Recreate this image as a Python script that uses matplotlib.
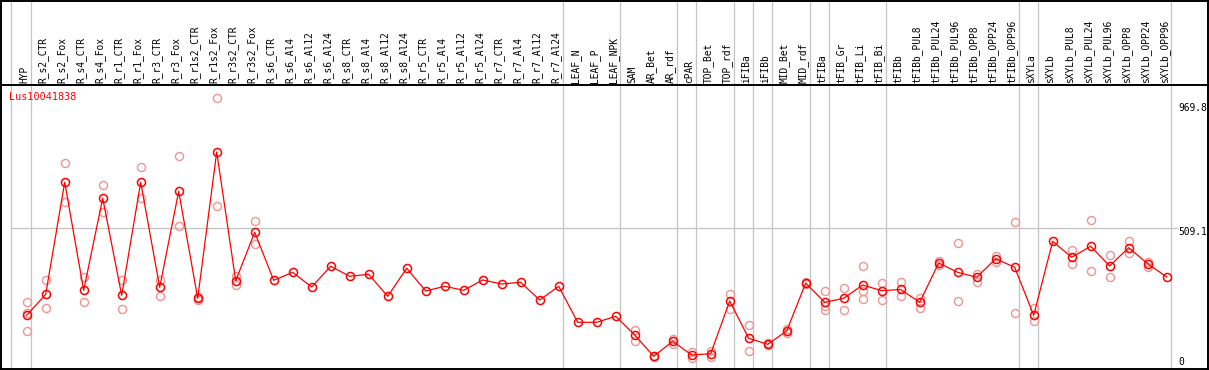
import matplotlib
matplotlib.use("Agg")
import matplotlib.pyplot as plt

W, H = 1209, 370

gene = "Lus10041838"

categories = [
    "HYP", "R_s2_CTR", "R_s2_Fox", "R_s4_CTR", "R_s4_Fox", "R_r1_CTR", "R_r1_Fox",
    "R_r3_CTR", "R_r3_Fox", "R_r1s2_CTR", "R_r1s2_Fox", "R_r3s2_CTR", "R_r3s2_Fox",
    "R_s6_CTR", "R_s6_Al4", "R_s6_Al12", "R_s6_Al24", "R_s8_CTR", "R_s8_Al4",
    "R_s8_Al12", "R_s8_Al24", "R_r5_CTR", "R_r5_Al4", "R_r5_Al12", "R_r5_Al24",
    "R_r7_CTR", "R_r7_Al4", "R_r7_Al12", "R_r7_Al24", "LEAF_N", "LEAF_P", "LEAF_NPK",
    "SAM", "AR_Bet", "AR_rdf", "cPAR", "TOP_Bet", "TOP_rdf", "iFIBa", "iFIBb",
    "MID_Bet", "MID_rdf", "tFIBa", "tFIB_Gr", "tFIB_Li", "tFIB_Bi", "tFIBb",
    "tFIBb_PUL8", "tFIBb_PUL24", "tFIBb_PUL96", "tFIBb_OPP8", "tFIBb_OPP24",
    "tFIBb_OPP96", "sXYLa", "sXYLb", "sXYLb_PUL8", "sXYLb_PUL24", "sXYLb_PUL96",
    "sXYLb_OPP8", "sXYLb_OPP24", "sXYLb_OPP96",
]

means = [
    193.2, 268.8, 671.9, 283.2, 614.3, 265.2, 671.9, 294.0, 639.5, 254.4, 780.9,
    317.8, 491.9, 319.2, 348.0, 295.1, 369.6, 333.6, 340.8, 261.6, 362.4, 280.7,
    297.6, 283.2, 320.3, 305.9, 312.0, 248.3, 297.6, 168.1, 168.1, 189.6,
    122.4, 45.7, 99.7, 50.4, 55.1, 244.7, 110.5, 88.9, 136.7, 309.5, 240.0,
    254.4, 302.3, 281.8, 286.1, 240.0, 381.5, 348.0, 330.0, 396.9, 366.0,
    193.2, 459.5, 402.0, 441.5, 370.7, 436.5, 378.9, 331.1,
]

replicates = [
    [241, 203, 136], [320, 218], [740, 602], [332, 240], [661, 566], [320, 215],
    [726, 616], [320, 262], [765, 516], [260, 249], [974, 587], [335, 303],
    [532, 449], [], [], [], [], [], [], [], [], [], [], [], [], [], [], [], [],
    [], [], [],
    [140, 102], [48, 43], [109, 90], [38, 62], [66, 44], [270, 217], [157, 64],
    [92, 86], [143, 128], [312, 307], [280, 228, 212], [290, 212],
    [371, 280, 253], [308, 248], [313, 263], [254, 221], [388, 375], [452, 244],
    [342, 313], [407, 385], [528, 200], [220, 172], [], [428, 377], [535, 352],
    [409, 330], [461, 417], [386, 368], [],
]

# last category of each group (separator drawn after it)
group_ends = ["HYP", "R_r7_Al24", "LEAF_NPK", "AR_rdf", "cPAR", "TOP_rdf", "iFIBa",
              "iFIBb", "MID_rdf", "tFIBa", "tFIB_Bi", "tFIBb_OPP96", "sXYLa",
              "sXYLb_OPP96"]

ref_values = [969.8, 509.1, 0]

# ---------------------------------------------------------------------------
fig = plt.figure(figsize=(W / 100, H / 100), dpi=100)
mono = "DejaVu Sans Mono"

left = 1 / W
width = 1207 / W
ax_h = fig.add_axes([left, (H - 85) / H, width, 84 / H])
ax = fig.add_axes([left, 1 / H, width, 284 / H])

n = len(categories)
x = list(range(n))
xmin, xmax = (1 - 26.7) / 19, (1208 - 26.7) / 19
for a in (ax, ax_h):
    a.set_xlim(xmin, xmax)
    a.set_xticks([])
    a.set_yticks([])
    for s in a.spines.values():
        s.set_color("black")
        s.set_linewidth(1.4)
ax_h.set_ylim(0, 1)
ax.set_ylim(0, 1022)

gray = "#c4c4c4"
seps = [-0.84] + [categories.index(g) + 0.21 for g in group_ends]
for sx in seps:
    ax.axvline(sx, color=gray, lw=0.9, zorder=0)
    ax_h.axvline(sx, color=gray, lw=0.9, zorder=0)

ax.hlines(ref_values[1], -0.84, (1177.7 - 26.7) / 19, color=gray, lw=0.9, zorder=0)

# labels
for i, lab in enumerate(categories):
    ax_h.text(i - 0.13, 2 / 84, lab, rotation=90, ha="center", va="bottom",
              fontsize=6.9, family=mono, color="black")

# replicates
rx, ry = [], []
for i, reps in enumerate(replicates):
    for r in reps:
        rx.append(i)
        ry.append(r)
ax.plot(rx, ry, linestyle="none", marker="o", ms=5.8, mfc="none",
        mec="#f09494", mew=1.0, zorder=2)

ax.plot(x, means, color="red", lw=0.9, marker="o", ms=5.8, mfc="none",
        mec="red", mew=1.1, zorder=3)

ax.text((9.3 - 1) / 1207, 1 - 12.5 / 284, gene, transform=ax.transAxes,
        color="red", fontsize=7.3, family=mono, ha="left", va="center")

offsets = [-6.1, -3.2, 5.0]
for v, off in zip(ref_values, offsets):
    lab = "0" if v == 0 else f"{v}"
    ax.annotate(lab, xy=((1178 - 26.7) / 19, v), xytext=(0, off),
                textcoords="offset points", ha="left", va="center",
                fontsize=6.9, family=mono, annotation_clip=False)

fig.savefig("out.png", dpi=100)
